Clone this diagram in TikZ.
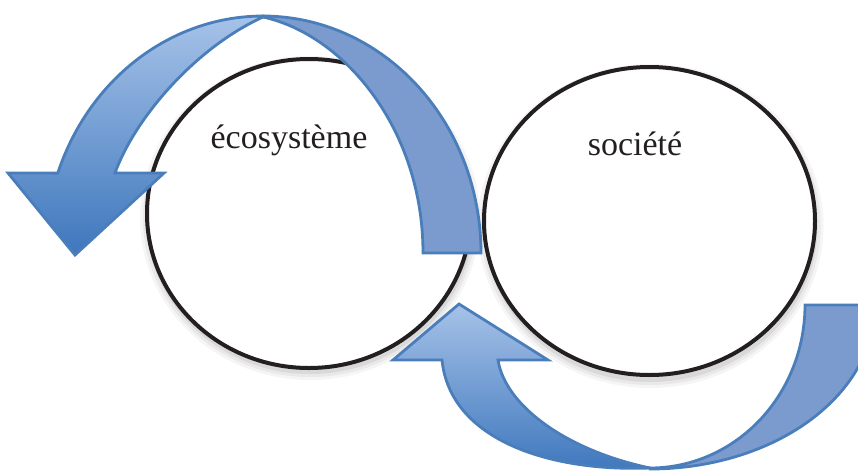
\documentclass[tikz,border=0pt]{standalone}
\usepackage{fontspec}
\setmainfont{Liberation Serif}
\usetikzlibrary{shapes.geometric}
\definecolor{arrowline}{HTML}{4A7EBB}
\definecolor{backfill}{HTML}{7B9BCF}
\definecolor{frontlight}{HTML}{A6C2E8}
\definecolor{frontdark}{HTML}{3E77BD}
\definecolor{ringcol}{HTML}{231F20}
\tikzset{
  ring/.style={ellipse, draw=ringcol, line width=4pt, fill=white, inner sep=0pt},
  lbl/.style={anchor=base, text=ringcol, font=\fontsize{34}{40}\selectfont, inner sep=0pt},
  backband/.style={fill=backfill, draw=arrowline, line width=2.8pt, line join=miter},
  frontband/.style={top color=frontlight, bottom color=frontdark, draw=arrowline, line width=2.8pt, line join=miter},
  shadowfill/.style={fill=black, opacity=#1}
}
\begin{document}
\begin{tikzpicture}[x=1pt,y=-1pt]
\useasboundingbox (0,0) rectangle (858,471);
\clip (0,0) rectangle (858,471);
% soft shadows of the two circles
\fill[shadowfill=0.04] (310,218) ellipse [x radius=170pt, y radius=162pt];
\fill[shadowfill=0.05] (310,218) ellipse [x radius=167pt, y radius=159pt];
\fill[shadowfill=0.07] (310,218) ellipse [x radius=164pt, y radius=156pt];
\fill[shadowfill=0.04] (650.5,226) ellipse [x radius=173pt, y radius=162pt];
\fill[shadowfill=0.05] (650.5,226) ellipse [x radius=170pt, y radius=159pt];
\fill[shadowfill=0.07] (650.5,226) ellipse [x radius=167pt, y radius=156pt];
% circles
\node[ring, minimum width=324pt, minimum height=309pt] (eco) at (309,213.5) {};
\node[ring, minimum width=331pt, minimum height=308pt] (soc) at (649.5,221) {};
% labels
\node[lbl] (ecotxt) at (289,148) {écosystème};
\node[lbl] (soctxt) at (635,155) {société};
% top curved arrow: back face
\path[backband] plot[domain=-90:0, samples=50, variable=\t] ({263+218*cos(\t)},{253+237*sin(\t)})
  -- (423,253) .. controls (423,130) and (345,35) .. (263,17) -- cycle;
% top curved arrow: front face with head
\path[frontband] plot[domain=-90:-160.3, samples=50, variable=\t] ({263+218*cos(\t)},{253+237*sin(\t)})
  -- (8,173) -- (75,255) -- (164,173) -- (115,173)
  .. controls (135,118) and (195,48) .. (263,17) -- cycle;
% bottom curved arrow: back face
\path[backband] plot[domain=90:0, samples=50, variable=\t] ({650+225*cos(\t)},{305+164*sin(\t)})
  -- (805,305) -- plot[domain=0:90, samples=50, variable=\t] ({650+155*cos(\t)},{305+163*sin(\t)}) -- cycle;
% bottom curved arrow: front face with head
\path[frontband] (650,468) .. controls (550,472) and (450,440) .. (442,360)
  -- (393,360) -- (459,304) -- (548,360) -- (498,360)
  .. controls (505,405) and (565,450) .. (650,468) -- cycle;
\end{tikzpicture}
\end{document}
